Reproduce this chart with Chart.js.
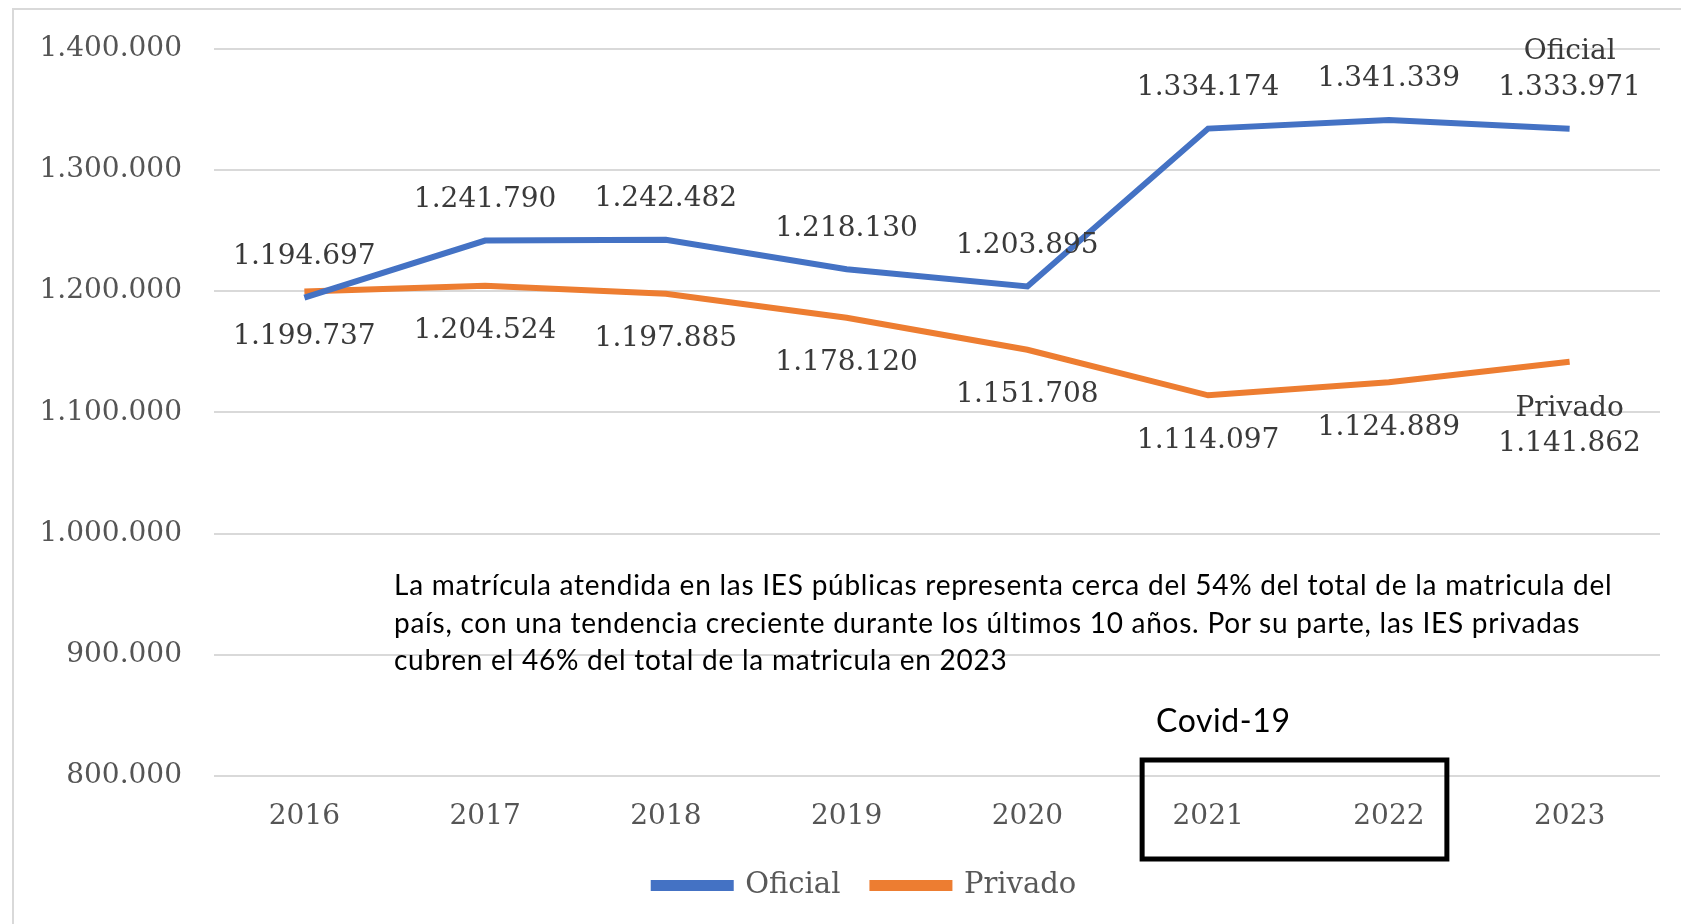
<!DOCTYPE html>
<html>
  <head>
    <meta charset="UTF-8" />
    <script src="https://cdn.jsdelivr.net/npm/chart.js"></script>
    <style>
      body {
        margin: 0;
        background: #fff;
      }
      #wrap {
        position: relative;
        width: 1681px;
        height: 924px;
        overflow: hidden;
      }
      #frame {
        position: absolute;
        left: 12px;
        top: 8px;
        right: -10px;
        bottom: -10px;
        border-left: 2px solid #d9d9d9;
        border-top: 2px solid #d9d9d9;
      }
      .note {
        position: absolute;
        font-family: Lato, "Open Sans", sans-serif;
        color: #000;
        white-space: nowrap;
      }
      #resumen {
        left: 394px;
        top: 566px;
        font-size: 28px;
        letter-spacing: 0.75px;
        line-height: 37.5px;
      }
      #covid {
        left: 1156px;
        top: 700px;
        font-size: 32px;
        letter-spacing: 0.6px;
        line-height: 40px;
      }
    </style>
  </head>
  <body>
    <div id="wrap">
      <div id="frame"></div>
      <canvas id="matriculaChart" width="1681" height="924"></canvas>
      <div class="note" id="resumen">
        La matrícula atendida en las IES públicas representa cerca del 54% del total de la matricula del<br />
        país, con una tendencia creciente durante los últimos 10 años. Por su parte, las IES privadas<br />
        cubren el 46% del total de la matricula en 2023
      </div>
      <div class="note" id="covid">Covid-19</div>
    </div>
    <script>
      // datos de matrícula por año
      const years = ["2016", "2017", "2018", "2019", "2020", "2021", "2022", "2023"];
      const oficial = [1194697, 1241790, 1242482, 1218130, 1203895, 1334174, 1341339, 1333971];
      const privado = [1199737, 1204524, 1197885, 1178120, 1151708, 1114097, 1124889, 1141862];
      const yTicks = [800000, 900000, 1000000, 1100000, 1200000, 1300000, 1400000];
      const covidYears = ["2021", "2022"];

      const serif = "'DejaVu Serif', 'Liberation Serif', serif";

      function fmt(n) {
        return String(n).replace(/\B(?=(\d{3})+(?!\d))/g, ".");
      }

      // etiquetas de valores sobre/bajo la línea
      const valueLabels = {
        id: "valueLabels",
        afterLayout(chart) {
          // la leyenda va un poco a la derecha del centro
          chart.legend.left += 35;
          chart.legend.right += 35;
        },
        afterDatasetsDraw(chart) {
          const ctx = chart.ctx;
          ctx.save();
          ctx.font = "28px " + serif;
          ctx.fillStyle = "#3a3a3a";
          ctx.textAlign = "center";
          ctx.textBaseline = "middle";
          chart.data.datasets.forEach((ds, i) => {
            const meta = chart.getDatasetMeta(i);
            const above = i === 0;
            meta.data.forEach((pt, j) => {
              const last = j === meta.data.length - 1;
              const v = fmt(ds.data[j]);
              if (above) {
                ctx.fillText(v, pt.x, pt.y - 41);
                if (last) ctx.fillText(ds.label, pt.x, pt.y - 77);
              } else if (last) {
                ctx.fillText(ds.label, pt.x, pt.y + 47);
                ctx.fillText(v, pt.x, pt.y + 82);
              } else {
                ctx.fillText(v, pt.x, pt.y + 45);
              }
            });
          });
          ctx.restore();
        },
        afterDraw(chart) {
          // recuadro Covid-19 sobre los años del eje
          const x = chart.scales.x;
          const y = chart.scales.y;
          const x0 = x.getPixelForValue(years.indexOf(covidYears[0])) - 66;
          const x1 = x.getPixelForValue(years.indexOf(covidYears[1])) + 58;
          const top = y.getPixelForValue(yTicks[0]) - 16;
          const ctx = chart.ctx;
          ctx.save();
          ctx.strokeStyle = "#000";
          ctx.lineWidth = 5;
          ctx.strokeRect(x0, top, x1 - x0, 99);
          ctx.restore();
        },
      };

      const ctx = document.getElementById("matriculaChart").getContext("2d");
      new Chart(ctx, {
        type: "line",
        data: {
          labels: years,
          datasets: [
            {
              label: "Oficial",
              data: oficial,
              borderColor: "#4472C4",
              backgroundColor: "#4472C4",
              borderWidth: 6,
              pointRadius: 0,
              tension: 0,
            },
            {
              label: "Privado",
              data: privado,
              borderColor: "#ED7D31",
              backgroundColor: "#ED7D31",
              borderWidth: 6,
              pointRadius: 0,
              tension: 0,
            },
          ],
        },
        options: {
          responsive: false,
          animation: false,
          layout: { padding: { top: 43, right: 21, left: 0, bottom: 14 } },
          plugins: {
            tooltip: { enabled: false },
            legend: {
              position: "bottom",
              labels: {
                boxWidth: 77,
                boxHeight: 5,
                color: "#595959",
                font: { family: serif, size: 29 },
                padding: 32,
              },
            },
          },
          scales: {
            x: {
              offset: true,
              grid: { display: false, drawTicks: false },
              border: { display: false },
              ticks: {
                color: "#555555",
                font: { family: serif, size: 28 },
                padding: 24,
              },
              afterFit(scale) {
                scale.height = 63;
              },
            },
            y: {
              min: yTicks[0],
              max: yTicks[yTicks.length - 1],
              afterBuildTicks(scale) {
                scale.ticks = yTicks.map((v) => ({ value: v }));
              },
              grid: { color: "#d9d9d9", lineWidth: 2, drawTicks: false },
              border: { display: false },
              ticks: {
                color: "#555555",
                font: { family: serif, size: 28 },
                padding: 32,
                callback: (v) => fmt(v),
              },
              afterFit(scale) {
                scale.width = 214;
              },
            },
          },
        },
        plugins: [valueLabels],
      });
    </script>
  </body>
</html>
